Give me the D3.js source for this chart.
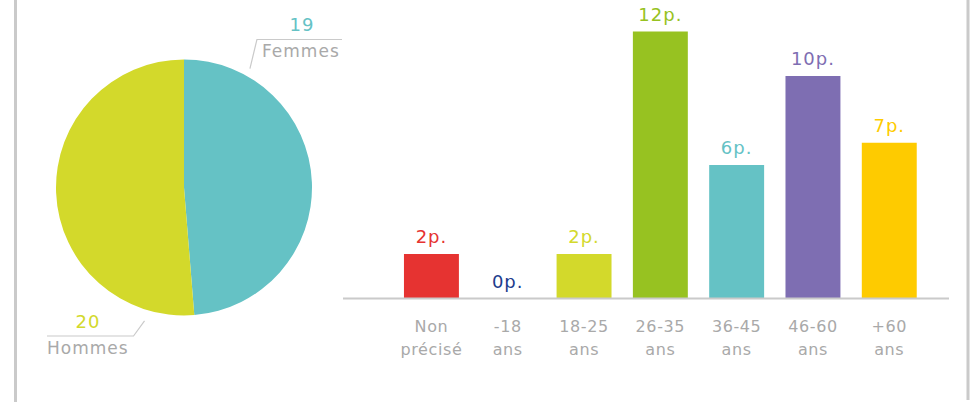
<!DOCTYPE html>
<html>
<head>
<meta charset="utf-8">
<script src="https://cdn.jsdelivr.net/npm/d3@7/dist/d3.min.js"></script>
<style>
  html, body { margin: 0; padding: 0; background: #ffffff; }
  svg { display: block; }
  text { font-family: "DejaVu Sans", sans-serif; }
</style>
</head>
<body>
<svg id="chart" width="971" height="403"></svg>
<script>
// ---- Data ----
const genderLabels = ["Femmes", "Hommes"];
const genderValues = [19, 20];
const genderColors = ["#65c2c5", "#d3d92b"];

const ageCategories = [["Non", "précisé"], ["-18", "ans"], ["18-25", "ans"], ["26-35", "ans"], ["36-45", "ans"], ["46-60", "ans"], ["+60", "ans"]];
const ageValues = [2, 0, 2, 12, 6, 10, 7];
const ageColors = ["#e63331", "#233b8c", "#d3d92b", "#97c221", "#65c2c5", "#7e6eb2", "#fecb00"];
const valueSuffix = "p.";

// ---- Setup ----
const svg = d3.select("#chart");
const gray = "#a9a9a9";
const lineGray = "#cacaca";

// Frame lines
svg.append("line").attr("x1", 15.5).attr("x2", 15.5).attr("y1", 0).attr("y2", 402)
  .attr("stroke", lineGray).attr("stroke-width", 3);
svg.append("line").attr("x1", 968).attr("x2", 968).attr("y1", 0).attr("y2", 400)
  .attr("stroke", lineGray).attr("stroke-width", 3);

// ---- Pie ----
const cx = 184, cy = 187.5, R = 128;
const pie = d3.pie().sort(null).value(d => d)(genderValues);
const arc = d3.arc().innerRadius(0).outerRadius(R);
const pg = svg.append("g").attr("transform", `translate(${cx},${cy})`);
pg.selectAll("path").data(pie).join("path")
  .attr("d", arc)
  .attr("fill", (d, i) => genderColors[i]);

// Annotations (leader lines + labels)
function polar(angleDeg, r) {
  const a = angleDeg * Math.PI / 180;
  return [r * Math.sin(a), -r * Math.cos(a)];
}
// Femmes
{
  const p0 = polar(29, 136);
  const p1 = [p0[0] + 7, -148];
  const p2 = [158, -148];
  pg.append("polyline").attr("points", [p0, p1, p2].map(p => p.join(",")).join(" "))
    .attr("fill", "none").attr("stroke", lineGray).attr("stroke-width", 1.2);
  pg.append("text").attr("x", 118).attr("y", -157).attr("text-anchor", "middle")
    .attr("font-size", 18).attr("fill", genderColors[0]).attr("letter-spacing", 1)
    .text(genderValues[0]);
  pg.append("text").attr("x", 78).attr("y", -130.5)
    .attr("font-size", 17).attr("fill", gray).attr("letter-spacing", 1)
    .text(genderLabels[0]);
}
// Hommes
{
  const p0 = polar(196.5, 139);
  const p1 = [p0[0] - 11, 148.5];
  const p2 = [-137, 148.5];
  pg.append("polyline").attr("points", [p0, p1, p2].map(p => p.join(",")).join(" "))
    .attr("fill", "none").attr("stroke", lineGray).attr("stroke-width", 1.2);
  pg.append("text").attr("x", -96).attr("y", 140).attr("text-anchor", "middle")
    .attr("font-size", 18).attr("fill", genderColors[1]).attr("letter-spacing", 1)
    .text(genderValues[1]);
  pg.append("text").attr("x", -137).attr("y", 166)
    .attr("font-size", 17).attr("fill", gray).attr("letter-spacing", 1)
    .text(genderLabels[1]);
}

// ---- Bars ----
const baseY = 298.5, topY = 31.5;
const x = d3.scaleBand().domain(d3.range(ageValues.length))
  .range([382.6, 938.1]).paddingInner(0.28).paddingOuter(0.28);
const y = d3.scaleLinear().domain([0, 12]).range([baseY, topY]);

const bg = svg.append("g");
bg.selectAll("rect.bar").data(ageValues).join("rect")
  .attr("class", "bar")
  .attr("x", (d, i) => x(i))
  .attr("width", x.bandwidth())
  .attr("y", d => y(d))
  .attr("height", d => baseY - y(d))
  .attr("fill", (d, i) => ageColors[i]);

// axis baseline
svg.append("line").attr("x1", 343).attr("x2", 949).attr("y1", baseY).attr("y2", baseY)
  .attr("stroke", lineGray).attr("stroke-width", 2);

// value labels
bg.selectAll("text.val").data(ageValues).join("text")
  .attr("class", "val")
  .attr("x", (d, i) => x(i) + x.bandwidth() / 2)
  .attr("y", d => y(d) - 11)
  .attr("text-anchor", "middle")
  .attr("font-size", 18)
  .attr("letter-spacing", 1)
  .attr("fill", (d, i) => ageColors[i])
  .text(d => d + valueSuffix);

// category labels
const cat = bg.selectAll("text.cat").data(ageCategories).join("text")
  .attr("class", "cat")
  .attr("text-anchor", "middle")
  .attr("font-size", 16)
  .attr("letter-spacing", 0.6)
  .attr("fill", gray);
cat.each(function (d, i) {
  const t = d3.select(this);
  d.forEach((line, j) => {
    t.append("tspan")
      .attr("x", x(i) + x.bandwidth() / 2)
      .attr("y", 332 + j * 23)
      .text(line);
  });
});
</script>
</body>
</html>
